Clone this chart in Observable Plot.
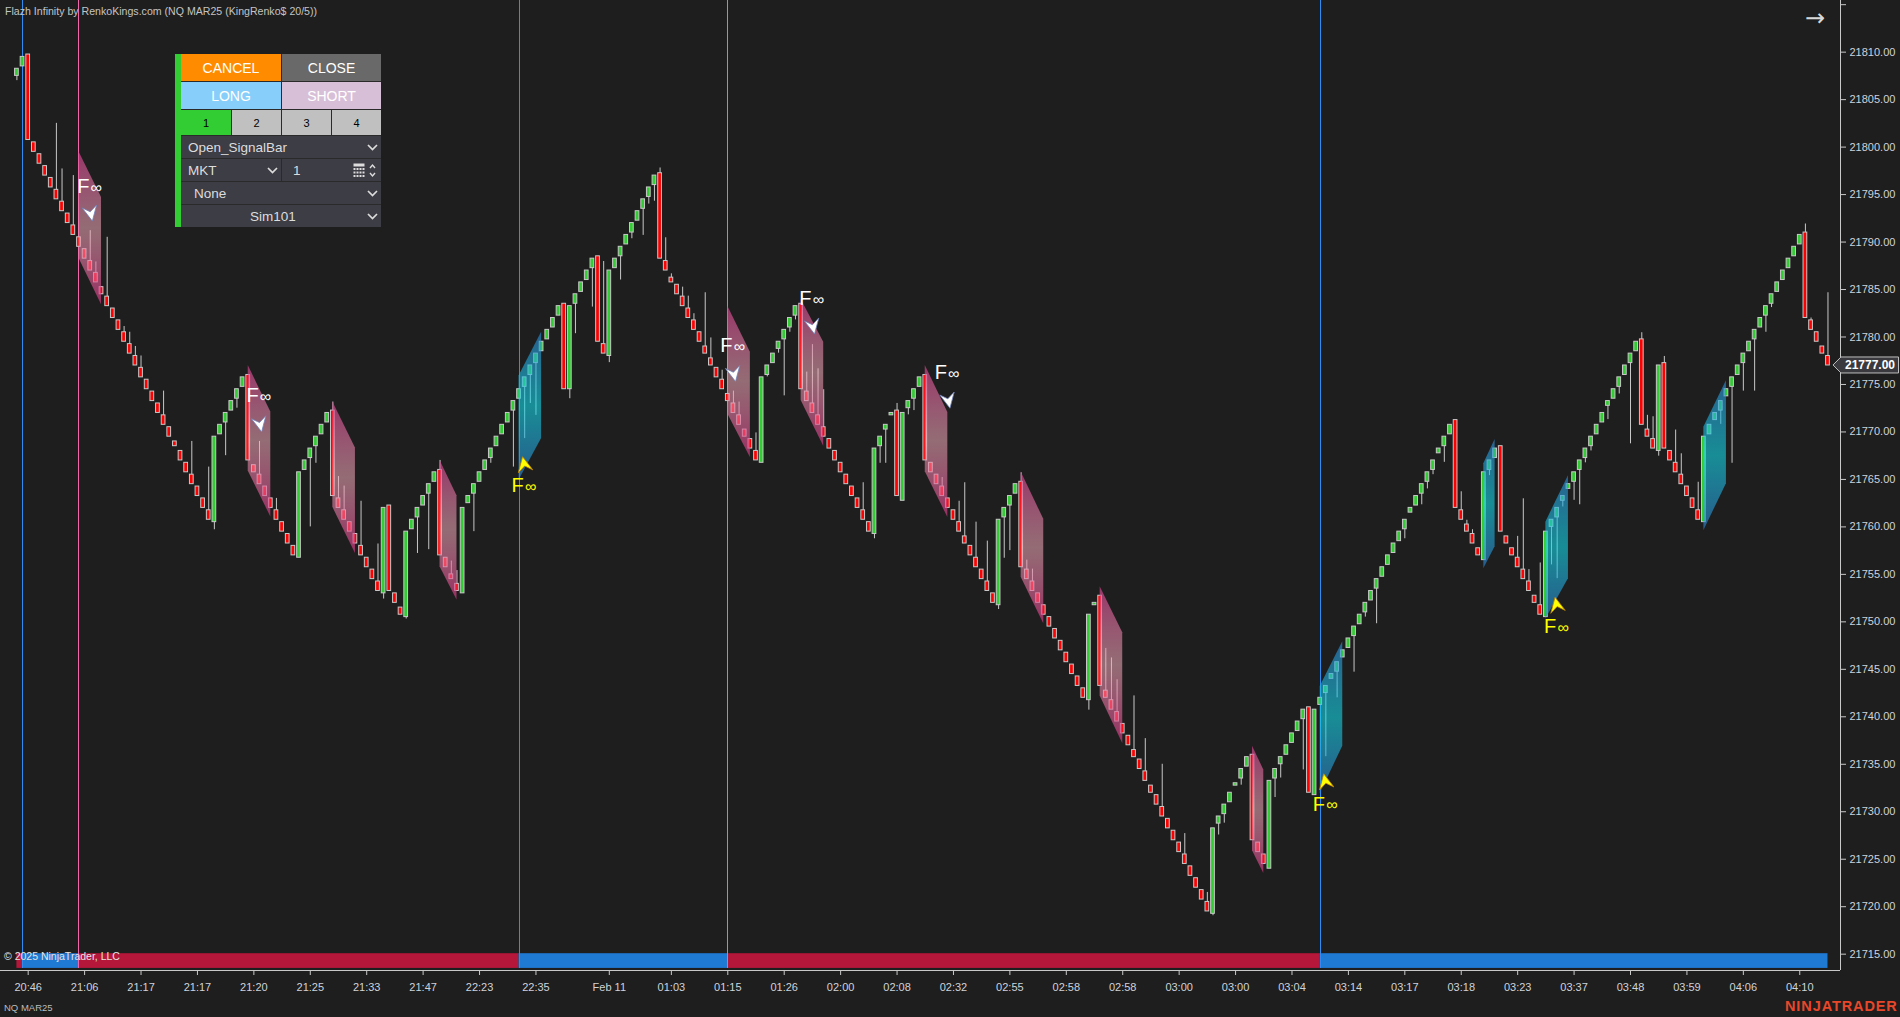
<!DOCTYPE html>
<html><head><meta charset="utf-8">
<script src="https://cdn.jsdelivr.net/npm/d3@7"></script>
<script src="https://cdn.jsdelivr.net/npm/@observablehq/plot@0.6"></script>
<style>
html,body{margin:0;padding:0;background:#1e1e1e;overflow:hidden}
#wrap{position:relative;width:1900px;height:1017px;font-family:"Liberation Sans",Arial,sans-serif}
#chart{position:absolute;left:0;top:0}
.ov{position:absolute;white-space:nowrap;line-height:1}
.b{position:absolute;display:flex;align-items:center;justify-content:center;box-sizing:border-box;white-space:nowrap}
.row{position:absolute;box-sizing:border-box;background:#3d3d45;color:#dcdcdc;font-size:13.5px;display:flex;align-items:center;white-space:nowrap}
.chev{position:absolute}
</style></head>
<body><div id="wrap"><div id="chart"></div>
<div class="ov" style="left:5px;top:6px;font-size:10.6px;color:#c4c4c4">Flazh Infinity by RenkoKings.com (NQ MAR25 (KingRenko$ 20/5))</div>
<div class="ov" style="left:1805px;top:6px;font-size:24px;color:#d8d8d8;font-family:'DejaVu Sans',sans-serif">→</div>
<div style="position:absolute;left:175px;top:54px;width:206px;height:173px;background:#2a2a2a"></div>
<div class="b" style="left:175px;top:54px;width:6px;height:173px;background:#32cd32"></div>
<div class="b" style="left:181px;top:54px;width:100px;height:27px;background:#ff8c00;color:#fff;font-size:14px">CANCEL</div>
<div class="b" style="left:282px;top:54px;width:99px;height:27px;background:#696969;color:#fff;font-size:14px">CLOSE</div>
<div class="b" style="left:181px;top:82px;width:100px;height:27px;background:#87cefa;color:#fff;font-size:14px">LONG</div>
<div class="b" style="left:282px;top:82px;width:99px;height:27px;background:#d8bfd8;color:#fff;font-size:14px">SHORT</div>
<div class="b" style="left:181px;top:110px;width:50px;height:25px;background:#32cd32;color:#000;font-size:11px">1</div>
<div class="b" style="left:232px;top:110px;width:49px;height:25px;background:#c0c0c0;color:#000;font-size:11px">2</div>
<div class="b" style="left:282px;top:110px;width:49px;height:25px;background:#c0c0c0;color:#000;font-size:11px">3</div>
<div class="b" style="left:332px;top:110px;width:49px;height:25px;background:#c0c0c0;color:#000;font-size:11px">4</div>
<div class="row" style="left:181px;top:136px;width:200px;height:22px;padding-left:7px">Open_SignalBar</div>
<div class="row" style="left:181px;top:159px;width:100px;height:22px;padding-left:7px">MKT</div>
<div class="row" style="left:282px;top:159px;width:99px;height:22px;padding-left:11px">1</div>
<div class="row" style="left:181px;top:182px;width:200px;height:22px;padding-left:13px">None</div>
<div class="row" style="left:181px;top:205px;width:200px;height:22px;justify-content:center;padding-right:16px">Sim101</div>
<svg class="chev" style="left:367px;top:144px" width="11" height="7"><polyline points="1,1 5.5,5.5 10,1" stroke="#dcdcdc" stroke-width="1.7" fill="none"/></svg>
<svg class="chev" style="left:267px;top:167px" width="11" height="7"><polyline points="1,1 5.5,5.5 10,1" stroke="#dcdcdc" stroke-width="1.7" fill="none"/></svg>
<svg class="chev" style="left:367px;top:190px" width="11" height="7"><polyline points="1,1 5.5,5.5 10,1" stroke="#dcdcdc" stroke-width="1.7" fill="none"/></svg>
<svg class="chev" style="left:367px;top:213px" width="11" height="7"><polyline points="1,1 5.5,5.5 10,1" stroke="#dcdcdc" stroke-width="1.7" fill="none"/></svg>
<svg class="chev" style="left:353px;top:163px" width="24" height="15">
 <rect x="0.5" y="0.5" width="11" height="3" fill="#dcdcdc"/>
 <g fill="#dcdcdc"><rect x="0.5" y="5" width="2" height="2"/><rect x="3.5" y="5" width="2" height="2"/><rect x="6.5" y="5" width="2" height="2"/><rect x="9.5" y="5" width="2" height="2"/>
 <rect x="0.5" y="8.5" width="2" height="2"/><rect x="3.5" y="8.5" width="2" height="2"/><rect x="6.5" y="8.5" width="2" height="2"/><rect x="9.5" y="8.5" width="2" height="2"/>
 <rect x="0.5" y="12" width="2" height="2"/><rect x="3.5" y="12" width="2" height="2"/><rect x="6.5" y="12" width="2" height="2"/><rect x="9.5" y="12" width="2" height="2"/></g>
 <polyline points="17,5 19.5,2 22,5" stroke="#dcdcdc" stroke-width="1.4" fill="none"/>
 <polyline points="17,10 19.5,13 22,10" stroke="#dcdcdc" stroke-width="1.4" fill="none"/>
</svg>
<div class="ov" style="left:4px;top:951px;font-size:10.5px;color:#e4e4e4">© 2025 NinjaTrader, LLC</div>
<div class="ov" style="left:4px;top:1003px;font-size:9.5px;color:#bcbcbc">NQ MAR25</div>
<div class="ov" style="left:1785px;top:999px;font-size:14.5px;font-weight:bold;color:#e8472a;letter-spacing:0.9px">NINJATRADER</div>
</div>
<script>
// ---------- data ----------
const opens = [
21807.5,21808.5,21809.75,21800.5,21799.25,21798.0,21796.75,21795.5,21794.25,21793.0,
21791.75,21790.5,21789.25,21788.0,21786.75,21785.25,21784.25,21783.0,21781.75,21780.5,
21779.25,21778.0,21776.75,21775.5,21774.25,21773.0,21771.75,21770.5,21769.0,21768.0,
21766.75,21765.5,21764.25,21763.0,21761.75,21760.5,21769.75,21771.0,21772.25,21773.5,
21774.75,21776.0,21766.5,21765.5,21764.25,21763.0,21761.75,21760.5,21759.25,21758.0,
21756.75,21766.0,21767.25,21768.5,21769.75,21771.0,21772.25,21763.0,21761.75,21760.5,
21759.25,21758.0,21756.75,21755.5,21754.25,21753.0,21762.25,21753.0,21751.5,21750.5,
21759.75,21761.0,21762.25,21763.5,21764.75,21766.0,21756.75,21755.0,21754.0,21753.0,
21762.5,21763.5,21764.75,21766.0,21767.25,21768.5,21769.75,21771.0,21772.25,21773.5,
21774.75,21776.0,21777.25,21778.5,21779.75,21781.0,21782.25,21783.5,21774.5,21783.5,
21784.75,21786.0,21787.25,21788.5,21779.25,21778.0,21787.25,21788.5,21789.75,21791.0,
21792.25,21793.5,21794.75,21796.0,21797.25,21788.0,21786.25,21785.5,21784.25,21783.0,
21781.75,21780.5,21779.0,21777.75,21776.75,21775.5,21774.0,21773.0,21771.75,21770.25,
21769.25,21768.0,21766.75,21776.0,21777.25,21778.75,21779.75,21781.0,21782.25,21783.5,
21774.25,21773.0,21771.75,21770.5,21769.25,21768.0,21766.75,21765.5,21764.25,21763.0,
21761.75,21760.5,21759.25,21768.5,21770.25,21771.75,21772.25,21762.75,21772.5,21773.5,
21774.75,21776.0,21766.75,21765.5,21764.25,21763.0,21761.75,21760.5,21759.0,21758.0,
21756.75,21755.5,21754.25,21753.0,21751.75,21761.0,21762.25,21763.5,21764.75,21755.5,
21754.25,21753.0,21751.75,21750.5,21749.25,21748.0,21746.75,21745.5,21744.25,21743.0,
21741.75,21751.75,21752.75,21742.75,21741.75,21740.5,21739.25,21738.0,21736.5,21735.5,
21734.25,21732.75,21731.75,21730.5,21729.25,21728.0,21726.75,21725.5,21724.25,21723.0,
21721.75,21720.5,21719.25,21728.75,21729.75,21731.0,21732.75,21733.5,21734.75,21736.0,
21726.75,21725.5,21724.0,21733.5,21735.0,21736.0,21737.25,21738.5,21739.75,21741.0,
21731.75,21741.25,21742.5,21744.0,21744.75,21746.25,21747.25,21748.5,21749.75,21751.0,
21752.25,21753.5,21754.75,21756.0,21757.25,21758.5,21759.75,21761.5,21762.25,21763.5,
21764.75,21766.0,21767.75,21768.5,21769.75,21771.25,21761.75,21760.25,21759.25,21757.75,
21756.5,21766.0,21767.25,21768.5,21759.0,21757.75,21756.75,21755.5,21754.25,21752.75,
21751.75,21750.5,21760.0,21761.0,21762.75,21764.0,21764.75,21766.0,21767.25,21768.5,
21769.75,21771.0,21772.75,21773.5,21774.75,21776.0,21777.25,21778.5,21779.75,21770.25,
21769.25,21768.0,21777.25,21768.0,21766.75,21765.5,21764.25,21763.0,21761.75,21760.5,
21769.75,21771.25,21772.25,21773.75,21774.75,21776.0,21777.25,21778.5,21779.75,21781.0,
21782.25,21783.5,21784.75,21786.0,21787.25,21788.5,21789.75,21791.0,21781.75,21780.5,
21779.0,21778.0];
const closes = [
21808.25,21809.5,21800.75,21799.5,21798.25,21797.0,21795.75,21794.5,21793.25,21792.0,
21790.75,21789.5,21788.25,21787.0,21785.75,21784.5,21783.25,21782.0,21780.75,21779.5,
21778.25,21777.0,21775.75,21774.5,21773.25,21772.0,21770.75,21769.5,21768.5,21767.0,
21765.75,21764.5,21763.25,21762.0,21760.75,21769.5,21770.75,21772.0,21773.25,21774.5,
21775.75,21767.0,21765.75,21764.5,21763.25,21762.0,21760.75,21759.5,21758.25,21757.0,
21765.75,21767.0,21768.25,21769.5,21770.75,21772.0,21763.25,21762.0,21760.75,21759.5,
21758.25,21757.0,21755.75,21754.5,21753.25,21762.0,21753.25,21752.0,21750.75,21759.5,
21760.75,21762.0,21763.25,21764.5,21765.75,21757.0,21755.75,21754.5,21753.25,21762.0,
21763.25,21764.5,21765.75,21767.0,21768.25,21769.5,21770.75,21772.0,21773.25,21774.5,
21775.75,21777.0,21778.25,21779.5,21780.75,21782.0,21783.25,21774.5,21783.25,21784.5,
21785.75,21787.0,21788.25,21779.5,21778.25,21787.0,21788.25,21789.5,21790.75,21792.0,
21793.25,21794.5,21795.75,21797.0,21788.25,21787.0,21785.75,21784.5,21783.25,21782.0,
21780.75,21779.5,21778.25,21777.0,21775.75,21774.5,21773.25,21772.0,21770.75,21769.5,
21768.25,21767.0,21775.75,21777.0,21778.25,21779.5,21780.75,21782.0,21783.25,21774.5,
21773.25,21772.0,21770.75,21769.5,21768.25,21767.0,21765.75,21764.5,21763.25,21762.0,
21760.75,21759.5,21768.25,21769.5,21770.75,21772.0,21763.25,21772.0,21773.25,21774.5,
21775.75,21767.0,21765.75,21764.5,21763.25,21762.0,21760.75,21759.5,21758.25,21757.0,
21755.75,21754.5,21753.25,21752.0,21760.75,21762.0,21763.25,21764.5,21755.75,21754.5,
21753.25,21752.0,21750.75,21749.5,21748.25,21747.0,21745.75,21744.5,21743.25,21742.0,
21750.75,21752.0,21743.25,21742.0,21740.75,21739.5,21738.25,21737.0,21735.75,21734.5,
21733.25,21732.0,21730.75,21729.5,21728.25,21727.0,21725.75,21724.5,21723.25,21722.0,
21720.75,21719.5,21728.25,21729.5,21730.75,21732.0,21733.0,21734.5,21735.75,21727.0,
21725.75,21724.5,21733.25,21734.5,21735.75,21737.0,21738.25,21739.5,21740.75,21732.0,
21740.75,21742.0,21743.25,21744.5,21745.75,21747.0,21748.25,21749.5,21750.75,21752.0,
21753.25,21754.5,21755.75,21757.0,21758.25,21759.5,21760.75,21762.0,21763.25,21764.5,
21765.75,21767.0,21768.25,21769.5,21770.75,21762.0,21760.75,21759.5,21758.25,21757.0,
21765.75,21767.0,21768.25,21759.5,21758.25,21757.0,21755.75,21754.5,21753.25,21752.0,
21750.75,21759.5,21760.75,21762.0,21763.25,21764.5,21765.75,21767.0,21768.25,21769.5,
21770.75,21772.0,21773.25,21774.5,21775.75,21777.0,21778.25,21779.5,21770.75,21769.5,
21768.25,21777.0,21768.25,21767.0,21765.75,21764.5,21763.25,21762.0,21760.75,21769.5,
21770.75,21772.0,21773.25,21774.5,21775.75,21777.0,21778.25,21779.5,21780.75,21782.0,
21783.25,21784.5,21785.75,21787.0,21788.25,21789.5,21790.75,21782.0,21780.75,21779.5,
21778.25,21777.0];
// wick extremes: [bar, price]
const wicks = [[0,21807.0],[7,21802.5],[8,21797.7],[10,21797.0],[13,21791.2],[14,21787.9],[16,21790.5],[19,21781.1],[20,21780.5],[21,21779.0],[22,21778.0],[26,21774.3],[31,21769.0],[34,21766.3],[35,21759.7],[37,21767.5],[39,21772.5],[43,21769.0],[46,21763.0],[52,21760.0],[53,21766.7],[56,21773.15],[57,21765.3],[58,21764.3],[61,21762.7],[64,21758.2],[65,21752.4],[69,21750.3],[71,21757.2],[73,21757.6],[75,21767.0],[77,21756.4],[78,21755.4],[81,21759.5],[84,21766.7],[88,21766.3],[90,21769.3],[91,21773.0],[92,21771.75],[98,21773.5],[99,21780.35],[102,21783.15],[104,21787.95],[105,21777.3],[107,21786.0],[109,21790.35],[111,21790.7],[112,21794.0],[113,21794.3],[114,21797.8],[115,21790.45],[116,21786.65],[118,21785.25],[119,21784.3],[120,21782.45],[122,21784.66],[123,21779.9],[125,21776.5],[127,21774.3],[128,21773.15],[131,21769.9],[133,21775.8],[135,21778.3],[136,21773.8],[137,21780.5],[138,21781.8],[140,21776.3],[141,21779.2],[142,21776.65],[143,21774.45],[150,21764.65],[152,21758.75],[153,21766.7],[154,21766.7],[156,21773.0],[158,21771.8],[159,21772.25],[164,21765.2],[167,21762.7],[168,21764.65],[170,21760.5],[172,21758.5],[174,21751.3],[175,21756.7],[176,21757.5],[178,21765.7],[179,21756.5],[180,21755.55],[190,21740.7],[193,21747.2],[194,21746.2],[195,21743.9],[198,21742.2],[200,21737.7],[203,21735.0],[207,21727.7],[211,21721.5],[212,21719.05],[213,21727.55],[214,21728.8],[217,21732.8],[223,21731.5],[224,21733.55],[228,21734.4],[232,21735.8],[234,21742.0],[237,21744.7],[239,21750.5],[241,21749.8],[246,21758.75],[247,21761.55],[249,21762.33],[250,21764.0],[251,21765.5],[253,21766.8],[256,21763.7],[257,21760.7],[258,21759.7],[261,21765.4],[266,21759.0],[267,21762.96],[268,21755.5],[270,21756.2],[272,21756.0],[273,21754.55],[274,21762.1],[276,21762.8],[277,21762.33],[278,21766.75],[279,21768.0],[280,21770.0],[282,21771.3],[284,21774.0],[286,21768.75],[288,21780.45],[289,21771.75],[290,21771.6],[291,21767.45],[292,21777.95],[294,21770.2],[295,21767.7],[298,21764.7],[302,21770.8],[304,21766.7],[306,21774.3],[308,21774.3],[310,21780.5],[311,21783.1],[317,21791.9],[318,21782.0],[321,21784.66]];

// x-axis time labels (bar index -> label)
const tickBars = [2,12,22,32,42,52,62,72,82,92,105,116,126,136,146,156,166,176,186,196,206,216,226,236,246,256,266,276,286,296,306,316];
const tickLabels = ["20:46","21:06","21:17","21:17","21:20","21:25","21:33","21:47","22:23","22:35","Feb 11","01:03","01:15","01:26","02:00","02:08","02:32","02:55","02:58","02:58","03:00","03:00","03:04","03:14","03:17","03:18","03:23","03:37","03:48","03:59","04:06","04:10"];
const priceTicks = [21715,21720,21725,21730,21735,21740,21745,21750,21755,21760,21765,21770,21775,21780,21785,21790,21795,21800,21805,21810,21815];

// signal zones (parallelograms)
const zoneDir      = ["dn","dn","dn","dn","dn","dn","dn","dn","dn","dn","up","up","up","up","up"];
const zoneFrom     = [11,41,56,75,126,139,161,178,192,219,89,231,260,271,299];
const zoneTo       = [15,45,60,78,130,143,165,182,196,221,93,235,262,275,303];
const zoneTopFrom  = [21799.5,21777.0,21773.15,21767.0,21783.25,21783.95,21777.0,21765.77,21753.7,21736.9,21775.9,21743.2,21766.65,21760.5,21770.5];
const zoneBotFrom  = [21788.3,21765.9,21762.06,21755.8,21771.9,21773.3,21765.8,21754.7,21742.2,21725.9,21764.9,21731.9,21755.6,21750.3,21759.6];
const zoneTopTo    = [21794.7,21772.1,21768.3,21763.27,21778.4,21779.46,21772.05,21760.8,21748.85,21734.4,21780.5,21747.9,21769.2,21765.4,21775.4];
const zoneBotTo    = [21783.4,21761.05,21757.2,21752.3,21767.3,21768.5,21761.0,21749.8,21737.2,21723.5,21769.3,21736.9,21757.9,21754.54,21764.55];

// "F∞" signals
const sellBars  = [13,43,127,141,165];
const sellText  = [21795.85,21773.85,21779.1,21784.05,21776.2];
const sellArrow = [21793.1,21770.9,21776.2,21781.2,21773.4];
const buyBars   = [90,232,273];
const buyArrow  = [21766.5,21733.1,21751.7];
const buyText   = [21764.3,21730.8,21749.5];

// trend lines and bottom trend strip
const lineBars  = [1,11,89,126,231];
const lineDir   = ["up","dn","up","dn","up"];
const stripFrom = [0,1,11,89,126,231];
const stripTo   = [1,11,89,126,231,321];
const stripDir  = ["dn","up","dn","up","dn","up"];

// ---------- build ----------
const GREEN = "#32cd32", RED = "#ff0000", OUTL = "#c8c8c8";
const bars = opens.map((o, i) => ({i, open: o, close: closes[i]}));
const zoneRows = zoneFrom.flatMap((a, k) => [
  {k, dir: zoneDir[k], x: a, top: zoneTopFrom[k], bot: zoneBotFrom[k]},
  {k, dir: zoneDir[k], x: zoneTo[k], top: zoneTopTo[k], bot: zoneBotTo[k]}
]);
const strip = stripFrom.map((a, k) => ({a, b: stripTo[k], dir: stripDir[k]}));
const lines = lineBars.map((x, k) => ({x, dir: lineDir[k]}));
const sells = sellBars.map((x, k) => ({x, t: sellText[k], a: sellArrow[k]}));
const buys = buyBars.map((x, k) => ({x, t: buyText[k], a: buyArrow[k]}));
const yLo = 21713.28, yHi = 21815.44, xLo = -2.907, xHi = 323.22;
const stripLo = 21713.5, stripHi = 21715.05;

const sellSym = {draw(ctx, size) {const s = Math.sqrt(size / Math.PI);
  ctx.moveTo(s*0.25, s); ctx.lineTo(-s*0.95, -s*0.55); ctx.lineTo(0, -s*0.1); ctx.lineTo(s*0.75, -s*0.9); ctx.closePath();}};
const buySym = {draw(ctx, size) {const s = Math.sqrt(size / Math.PI);
  ctx.moveTo(-s*0.25, -s); ctx.lineTo(s*0.95, s*0.55); ctx.lineTo(0, s*0.1); ctx.lineTo(-s*0.75, s*0.9); ctx.closePath();}};

const chart = Plot.plot({
  width: 1900, height: 1017,
  marginLeft: 0, marginRight: 60, marginTop: 0, marginBottom: 47,
  style: {background: "#1e1e1e", color: "#cfd3da", fontFamily: "Liberation Sans, Arial, sans-serif", fontSize: "11px"},
  x: {type: "linear", domain: [xLo, xHi], label: null},
  y: {type: "linear", domain: [yLo, yHi], label: null},
  color: {type: "identity"},
  marks: [
    Plot.rect(strip, {x1: d => d.a, x2: d => d.b, y1: () => stripLo, y2: () => stripHi,
      fill: d => d.dir === "up" ? "#1f7ad4" : "#b5173a"}),
    Plot.ruleX(lines, {x: "x", y1: () => stripLo, y2: () => yHi, shapeRendering: "crispEdges",
      stroke: d => d.dir === "up" ? "#2f8cf0" : "#f466ac", strokeWidth: 1}),
    Plot.ruleX(wicks, {x: d => d[0], y1: d => d[1], y2: d => (opens[d[0]] + closes[d[0]]) / 2, stroke: OUTL, strokeWidth: 1}),
    Plot.rect(bars, {x1: d => d.i - 0.33, x2: d => d.i + 0.33, y1: "open", y2: "close",
      fill: d => d.close > d.open ? GREEN : RED, stroke: OUTL, strokeWidth: 1}),
    Plot.areaY(zoneRows.filter(d => d.dir === "dn"), {x: "x", y1: "bot", y2: "top", z: "k", fill: "url(#gPink)", curve: "linear"}),
    Plot.areaY(zoneRows.filter(d => d.dir === "up"), {x: "x", y1: "bot", y2: "top", z: "k", fill: "url(#gCyan)", curve: "linear"}),
    Plot.dot(sells, {x: "x", y: "a", r: 8.5, symbol: sellSym, fill: "#ffffff", stroke: "#7080b8", strokeWidth: 0.8}),
    Plot.dot(buys, {x: "x", y: "a", r: 8.5, symbol: buySym, fill: "#ffff00", stroke: "#c08000", strokeWidth: 0.8}),
    Plot.text(sells, {x: "x", y: "t", text: () => "F", fontSize: 20, dx: -7, fill: "#ffffff", fontFamily: "Liberation Sans, Arial"}),
    Plot.text(sells, {x: "x", y: "t", text: () => "∞", fontSize: 16, dx: 6, dy: 1, fill: "#ffffff", fontFamily: "Liberation Sans, Arial"}),
    Plot.text(buys, {x: "x", y: "t", text: () => "F", fontSize: 20, dx: -7, fill: "#ffff00", fontFamily: "Liberation Sans, Arial"}),
    Plot.text(buys, {x: "x", y: "t", text: () => "∞", fontSize: 16, dx: 6, dy: 1, fill: "#ffff00", fontFamily: "Liberation Sans, Arial"}),
    Plot.ruleY([yLo], {stroke: OUTL, shapeRendering: "crispEdges"}),
    Plot.ruleX([xHi], {stroke: OUTL, shapeRendering: "crispEdges"}),
    Plot.axisY({anchor: "right", ticks: priceTicks, tickSize: 5, tickPadding: 4, label: null,
      tickFormat: d => d === 21815 ? "" : d.toFixed(2), stroke: OUTL, fill: "#cfd3da", fontSize: 11}),
    Plot.axisX({ticks: tickBars, tickSize: 5, tickPadding: 8, label: null,
      tickFormat: d => tickLabels[tickBars.indexOf(d)], stroke: OUTL, fill: "#cfd3da", fontSize: 11})
  ]
});

const svg = d3.select(chart);
svg.insert("defs", ":first-child").html(`
<linearGradient id="gPink" x1="0" y1="0" x2="0" y2="1">
 <stop offset="0" stop-color="rgb(210,65,140)" stop-opacity="0.68"/>
 <stop offset="0.5" stop-color="rgb(240,170,185)" stop-opacity="0.56"/>
 <stop offset="1" stop-color="rgb(210,55,130)" stop-opacity="0.68"/>
</linearGradient>
<linearGradient id="gCyan" x1="0" y1="0" x2="0" y2="1">
 <stop offset="0" stop-color="rgb(45,140,215)" stop-opacity="0.62"/>
 <stop offset="0.5" stop-color="rgb(20,215,230)" stop-opacity="0.6"/>
 <stop offset="1" stop-color="rgb(45,130,210)" stop-opacity="0.62"/>
</linearGradient>`);

// current price tag on the price axis
const last = closes[closes.length - 1];
const py = chart.scale("y").apply(last);
const ax = chart.scale("x").apply(xHi);
const tag = svg.append("g");
tag.append("path").attr("d", `M${ax - 7},${py} L${ax + 1},${py - 8} L1898.5,${py - 8} L1898.5,${py + 8} L${ax + 1},${py + 8} Z`)
  .attr("fill", "#3a3a3e").attr("stroke", "#bdbdbd").attr("stroke-width", 1);
tag.append("text").attr("x", ax + 30).attr("y", py).attr("dy", "0.35em").attr("text-anchor", "middle")
  .attr("fill", "#ffffff").attr("font-size", 12).attr("font-weight", "bold")
  .attr("font-family", "Liberation Sans, Arial").text(last.toFixed(2));

document.getElementById("chart").append(chart);
</script>
</body></html>
